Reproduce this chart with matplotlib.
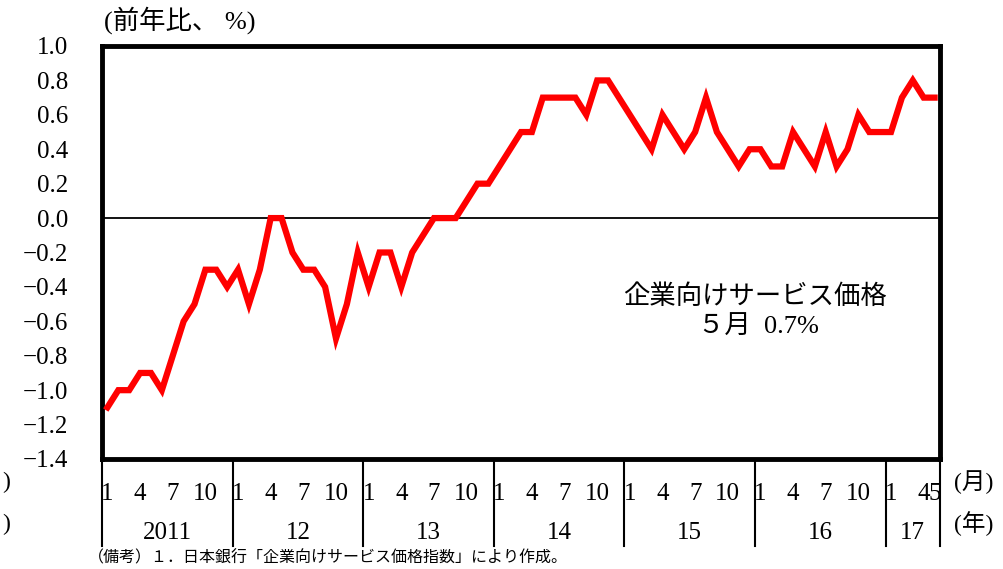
import matplotlib
matplotlib.use('Agg')
import matplotlib.pyplot as plt
import matplotlib.transforms as mtrans
import numpy as np

plt.rcParams['font.family'] = ['Liberation Serif', 'Noto Sans CJK JP', 'DejaVu Sans']

# 企業向けサービス価格 前年比(%), 2011年1月～2017年5月
y2011 = [-1.1, -1.0, -1.0, -0.9, -0.9, -1.0, -0.8, -0.6, -0.5, -0.3, -0.3, -0.4]
y2012 = [-0.3, -0.5, -0.3, 0.0, 0.0, -0.2, -0.3, -0.3, -0.4, -0.7, -0.5, -0.2]
y2013 = [-0.4, -0.2, -0.2, -0.4, -0.2, -0.1, 0.0, 0.0, 0.0, 0.1, 0.2, 0.2]
y2014 = [0.3, 0.4, 0.5, 0.5, 0.7, 0.7, 0.7, 0.7, 0.6, 0.8, 0.8, 0.7]
y2015 = [0.6, 0.5, 0.4, 0.6, 0.5, 0.4, 0.5, 0.7, 0.5, 0.4, 0.3, 0.4]
y2016 = [0.4, 0.3, 0.3, 0.5, 0.4, 0.3, 0.5, 0.3, 0.4, 0.6, 0.5, 0.5]
y2017 = [0.5, 0.7, 0.8, 0.7, 0.7]

years = ['2011', '12', '13', '14', '15', '16', '17']
month_ticks = [1, 4, 7, 10]
last_months = [1, 4, 5]
yticks = [1.0, 0.8, 0.6, 0.4, 0.2, 0.0, -0.2, -0.4, -0.6, -0.8, -1.0, -1.2, -1.4]

values = y2011 + y2012 + y2013 + y2014 + y2015 + y2016 + y2017
n = len(values)
x = np.arange(n)

fig = plt.figure(figsize=(10.04, 5.69), dpi=100)
W, H = 1004., 569.
ax = fig.add_axes([102/W, 1-459/H, 838/W, 413/H])

ax.plot(x, values, color='#ff0000', lw=4.5, solid_joinstyle='miter', zorder=3)
ax.axhline(0, color='black', lw=1.3, zorder=2)

ax.set_xlim(-0.5, n-0.5)
ax.set_ylim(-1.4, 1.0)
ax.set_yticks(yticks)
ax.set_yticklabels([('%.1f' % v).replace('-', '\u2212') for v in yticks], fontsize=18)
ax.tick_params(axis='y', length=0, pad=24.5)
for s in ax.spines.values():
    s.set_linewidth(3.5)

# month tick labels
pos = []
labs = []
for k in range(len(years)):
    ms = month_ticks if k < len(years)-1 else last_months
    for m in ms:
        pos.append(12*k + m - 1)
        labs.append(str(m))
ax.set_xticks(pos)
ax.set_xticklabels(labs, fontsize=18)
ax.tick_params(axis='x', length=0, pad=17)

trans = mtrans.blended_transform_factory(ax.transData, ax.transAxes)
bottom = -(546-459)/413.
bounds = [12*k - 0.5 for k in range(len(years))] + [n - 0.5]
for b in bounds:
    ax.plot([b, b], [0, bottom], color='black', lw=1.5, transform=trans, clip_on=False)
for k, yr in enumerate(years):
    c = (bounds[k] + bounds[k+1]) / 2
    ax.text(c, -(533-459)/413., yr, transform=trans, ha='center', va='center', fontsize=18)

fig.text(954/W, 1-482/H, '(月)', ha='left', va='center', fontsize=17)
fig.text(954/W, 1-524/H, '(年)', ha='left', va='center', fontsize=17)
fig.text(2/W, 1-482/H, ')', ha='left', va='center', fontsize=17)
fig.text(2/W, 1-524/H, ')', ha='left', va='center', fontsize=17)

fig.text(180/W, 1-20/H, '(前年比、 %)', ha='center', va='center', fontsize=19)
fig.text(755/W, 1-297/H, '企業向けサービス価格', ha='center', va='center', fontsize=19)
fig.text(758/W, 1-327/H, '５月  0.7%', ha='center', va='center', fontsize=19)
fig.text(88/W, 1-558/H, '（備考）１．日本銀行「企業向けサービス価格指数」により作成。',
         ha='left', va='center', fontsize=11.5)

fig.savefig('out.png', dpi=100)
